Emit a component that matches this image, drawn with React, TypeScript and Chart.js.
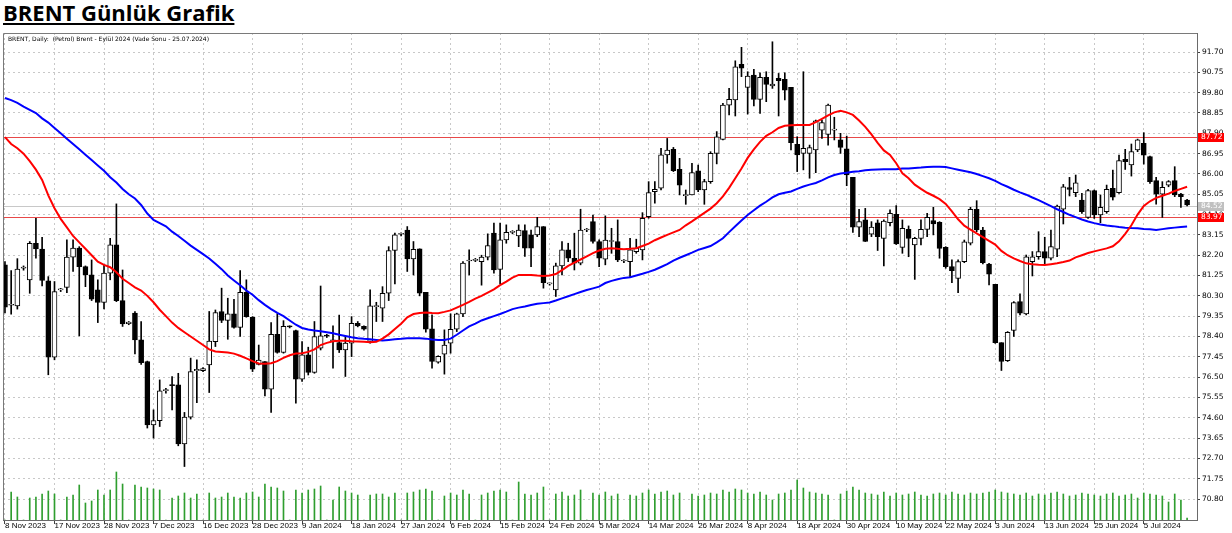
import { useEffect, useRef } from 'react';
import { Chart, registerables } from 'chart.js';

Chart.register(...registerables);

const dateLabels = ['8 Nov 2023','17 Nov 2023','28 Nov 2023','7 Dec 2023','16 Dec 2023','28 Dec 2023','9 Jan 2024','18 Jan 2024','27 Jan 2024','6 Feb 2024','15 Feb 2024','24 Feb 2024','5 Mar 2024','14 Mar 2024','26 Mar 2024','8 Apr 2024','18 Apr 2024','30 Apr 2024','10 May 2024','22 May 2024','3 Jun 2024','13 Jun 2024','25 Jun 2024','5 Jul 2024'];
const labelBars = [0,8,16,24,32,40,48,56,64,72,80,88,96,104,112,120,128,136,144,152,160,168,176,184];
const priceTicks = [70.80,71.75,72.70,73.65,74.60,75.55,76.50,77.45,78.40,79.35,80.30,81.25,82.20,83.15,84.10,85.05,86.00,86.95,87.90,88.85,89.80,90.75,91.70];
const levelRed = [87.72, 83.97];
const levelGray = [84.52];

const open = [
81.75,79.86,79.83,81.6,81.05,82.76,82.49,81.0,77.43,80.58,
80.70,82.11,82.53,81.67,81.28,80.58,79.99,81.36,82.68,80.08,
79.0,79.49,78.24,77.23,74.27,74.47,75.87,76.14,76.14,73.38,
74.63,76.8,76.8,77.07,78.16,79.57,79.15,79.46,78.82,80.47,
79.30,77.1,77.23,75.94,78.5,77.65,78.87,78.68,76.4,77.54,
76.72,77.85,78.45,78.2,78.12,77.77,78.09,79.02,78.87,78.17,
79.8,79.72,80.42,82.42,83.18,83.38,82.03,82.5,80.47,78.76,
77.2,77.57,78.09,78.74,79.46,81.93,81.96,81.90,82.11,83.23,
81.54,82.92,83.27,83.1,83.35,83.15,83.15,83.54,80.86,80.58,
81.7,82.45,82.06,81.83,83.38,83.77,82.84,82.01,82.84,82.84,
81.93,81.90,82.37,82.45,84.00,85.17,85.33,86.89,87.15,86.22,
84.99,85.02,86.15,85.25,85.64,86.96,87.62,89.22,89.46,91.12,
90.05,90.62,89.49,90.52,90.12,90.47,90.42,90.05,87.38,86.96,
86.96,87.12,88.05,87.85,88.05,87.59,87.17,85.84,83.51,83.85,
83.19,83.72,82.99,83.72,84.11,82.57,83.41,82.68,82.99,83.41,
83.82,83.74,82.57,81.67,81.12,81.90,82.76,84.35,83.38,81.79,
80.84,78.11,77.27,78.68,80.03,79.45,81.90,82.13,82.37,82.06,
82.48,84.35,85.36,85.12,84.78,83.97,85.22,84.08,84.24,85.33,
85.12,86.68,86.42,87.12,87.43,86.81,85.69,85.06,85.48,85.69,
85.06,84.78];

const high = [
81.9,81.48,82.04,81.7,82.84,83.93,83.04,81.2,80.97,80.65,
82.92,82.92,82.6,81.70,81.98,81.05,81.75,82.99,84.6,81.51,
79.1,79.57,79.1,77.25,74.97,76.37,75.98,76.53,76.68,74.85,
77.39,77.31,76.95,79.57,79.64,80.66,80.19,80.14,81.48,81.05,
79.33,78.0,77.23,79.05,79.46,79.14,78.9,78.7,78.16,77.9,
79.1,80.76,78.5,78.9,79.4,78.4,79.33,79.1,78.9,80.58,
80.0,80.73,82.6,83.23,83.25,83.54,82.84,82.5,80.47,79.41,
77.5,78.71,79.46,79.49,81.9,82.45,82.05,82.2,83.2,83.7,
83.7,83.62,83.35,83.62,83.62,83.38,83.97,83.54,80.9,81.83,
82.84,82.76,83.23,84.35,83.45,84.08,82.92,84.04,83.46,83.85,
82.0,82.99,82.95,84.19,85.64,85.64,87.20,87.66,87.24,86.73,
85.25,86.50,86.42,85.75,87.04,87.98,89.30,90.00,91.29,91.92,
90.78,90.89,90.73,90.78,92.18,90.70,90.73,90.05,87.74,90.78,
87.35,88.52,88.52,89.27,88.65,87.90,87.77,85.84,84.35,84.39,
83.77,83.85,83.85,84.32,84.52,83.85,83.57,83.04,83.85,84.16,
84.44,83.77,82.60,81.98,81.98,82.91,84.44,84.75,83.50,81.82,
80.84,78.11,78.63,80.03,80.39,82.21,82.37,83.30,83.04,83.38,
84.55,85.51,85.84,85.95,85.09,85.28,85.25,85.02,85.48,86.18,
86.88,87.15,87.40,87.63,87.93,86.84,85.84,85.64,85.69,86.34,
85.09,84.81];

const low = [
79.5,79.44,79.68,81.5,80.42,82.06,80.77,76.61,77.31,80.5,
80.45,81.44,78.43,80.73,80.08,79.05,79.69,81.05,80.03,78.87,
78.95,77.59,77.1,74.12,73.65,74.19,75.75,74.97,73.29,72.32,
74.54,75.31,76.75,75.78,77.93,79.05,78.27,78.79,78.40,79.30,
76.76,77.07,75.62,74.85,77.62,77.62,78.8,75.28,76.3,76.6,
76.68,77.77,78.35,76.92,77.65,76.53,77.46,78.85,78.7,78.09,
79.1,79.1,80.08,80.86,83.1,81.44,81.28,80.3,78.6,76.92,
77.15,76.64,77.62,78.63,79.33,81.28,81.9,80.8,81.98,81.36,
80.86,82.76,83.2,82.6,82.14,81.67,83.07,80.66,80.8,80.27,
81.28,81.9,81.51,81.75,83.3,82.76,81.67,81.75,82.29,81.90,
81.85,81.20,82.29,81.98,83.93,84.63,85.25,86.50,86.11,85.02,
84.58,85.02,85.17,84.58,85.56,86.47,87.59,88.76,88.71,90.55,
88.80,89.18,88.83,89.38,90.0,88.71,89.46,87.12,86.11,86.19,
85.80,86.06,87.66,87.35,87.59,86.96,85.45,83.27,83.07,82.84,
83.07,82.42,81.70,83.57,82.7,82.29,82.13,81.07,82.68,83.07,
83.15,82.06,81.59,80.92,80.45,81.85,82.68,83.30,81.79,80.81,
78.08,76.81,77.23,78.40,79.41,79.41,81.23,82.01,81.79,81.98,
82.13,83.66,84.97,84.94,84.16,83.92,83.92,83.72,84.16,84.78,
85.09,86.21,85.90,87.04,86.46,85.56,84.59,83.97,85.4,84.94,
84.44,84.50];

const close = [
79.77,79.9,81.55,81.65,82.76,82.49,81.02,77.43,80.5,80.6,
82.11,82.53,81.67,81.28,80.14,79.99,81.36,82.68,80.08,78.99,
79.07,78.24,77.18,74.27,74.47,75.86,75.9,76.1,73.38,74.63,
76.76,76.86,76.9,78.19,79.52,79.15,79.46,78.82,80.47,79.33,
76.87,77.3,75.94,78.5,77.65,78.87,78.85,76.4,77.54,76.72,
78.40,78.43,78.42,78.22,77.77,78.09,79.02,78.9,78.74,79.83,
79.82,80.42,82.42,83.15,83.2,82.03,82.48,80.42,78.74,77.23,
77.47,78.0,78.74,79.46,81.83,81.95,81.98,82.11,82.65,81.51,
82.92,83.27,83.29,83.38,82.53,82.53,83.54,80.92,80.88,81.7,
82.45,82.06,81.83,83.38,83.4,82.84,82.06,82.91,82.86,81.98,
81.95,82.45,82.53,83.93,85.13,85.28,86.89,87.12,86.15,85.48,
85.01,86.06,85.25,85.64,86.96,87.74,89.22,89.49,91.01,90.94,
90.58,89.49,90.52,90.19,90.2,90.36,89.92,87.46,86.89,87.20,
87.23,88.48,88.40,89.22,88.07,87.24,85.95,83.51,83.77,82.84,
83.51,83.07,83.80,84.16,82.73,83.46,82.99,82.99,83.41,83.97,
83.66,82.52,81.67,81.48,81.90,82.83,84.35,83.38,81.85,81.31,
78.11,77.23,78.60,79.98,79.49,82.13,82.13,82.37,82.06,82.60,
84.50,85.40,85.28,85.59,84.24,85.22,84.08,84.44,85.28,84.91,
86.62,86.57,87.04,87.59,86.88,85.64,85.06,85.37,85.64,85.02,
84.94,84.55];

const maFast = [
87.72,87.4,87.2,86.95,86.6,86.2,85.72,85.0,84.4,83.9,
83.5,83.1,82.8,82.5,82.2,81.9,81.75,81.64,81.4,81.1,
80.9,80.7,80.55,80.3,80.0,79.65,79.35,79.05,78.8,78.6,
78.4,78.2,78.0,77.8,77.7,77.68,77.65,77.6,77.5,77.38,
77.25,77.14,77.12,77.15,77.25,77.4,77.52,77.6,77.62,77.68,
77.8,78.0,78.1,78.18,78.2,78.2,78.18,78.17,78.15,78.13,
78.15,78.3,78.5,78.75,79.0,79.3,79.45,79.5,79.52,79.5,
79.49,79.55,79.62,79.75,79.88,80.02,80.17,80.3,80.45,80.6,
80.8,80.97,81.15,81.28,81.28,81.28,81.25,81.23,81.25,81.32,
81.5,81.7,81.85,82.0,82.15,82.3,82.42,82.5,82.53,82.5,
82.48,82.5,82.53,82.63,82.74,82.9,83.03,83.15,83.27,83.38,
83.6,83.78,83.98,84.18,84.38,84.63,84.95,85.35,85.8,86.25,
86.75,87.15,87.5,87.78,87.95,88.15,88.25,88.28,88.29,88.29,
88.29,88.42,88.58,88.74,88.88,88.95,88.88,88.76,88.5,88.2,
87.85,87.45,87.1,86.89,86.5,86.03,85.8,85.5,85.3,85.12,
84.98,84.82,84.6,84.25,83.88,83.58,83.4,83.22,83.05,82.87,
82.7,82.4,82.2,82.05,81.93,81.82,81.78,81.75,81.74,81.78,
81.82,81.88,81.95,82.1,82.2,82.3,82.38,82.45,82.52,82.62,
82.85,83.2,83.6,84.1,84.5,84.72,84.88,84.98,85.08,85.2,
85.3,85.4];

const maSlow = [
89.55,89.45,89.32,89.15,89.0,88.85,88.6,88.4,88.15,87.9,
87.65,87.4,87.15,86.9,86.65,86.4,86.15,85.85,85.6,85.3,
85.05,84.85,84.55,84.15,83.85,83.7,83.55,83.3,83.1,82.88,
82.65,82.45,82.25,82.05,81.8,81.55,81.25,81.02,80.8,80.55,
80.35,80.1,79.88,79.68,79.5,79.35,79.15,78.95,78.8,78.73,
78.68,78.65,78.6,78.55,78.48,78.42,78.36,78.32,78.29,78.27,
78.24,78.21,78.24,78.27,78.29,78.32,78.32,78.32,78.3,78.26,
78.24,78.24,78.3,78.48,78.68,78.87,79.0,79.15,79.25,79.35,
79.45,79.56,79.68,79.75,79.8,79.87,79.93,79.96,79.99,80.08,
80.18,80.28,80.38,80.48,80.57,80.65,80.73,80.9,81.0,81.08,
81.14,81.17,81.25,81.33,81.42,81.52,81.65,81.78,81.95,82.08,
82.2,82.32,82.45,82.54,82.63,82.8,82.99,83.28,83.55,83.82,
84.08,84.3,84.52,84.7,84.9,85.05,85.12,85.18,85.3,85.41,
85.5,85.58,85.7,85.84,85.95,86.02,86.06,86.1,86.13,86.17,
86.2,86.21,86.22,86.22,86.22,86.25,86.26,86.28,86.3,86.33,
86.34,86.34,86.32,86.26,86.2,86.14,86.08,86.0,85.9,85.8,
85.68,85.52,85.4,85.26,85.14,85.03,84.9,84.78,84.64,84.5,
84.35,84.22,84.09,83.98,83.87,83.78,83.7,83.64,83.59,83.56,
83.52,83.49,83.47,83.46,83.43,83.41,83.38,83.42,83.46,83.49,
83.52,83.54];

const volume = [
0,280,230,0,220,230,260,290,260,0,
230,250,350,170,190,300,250,300,480,360,
0,350,330,320,310,300,0,220,240,270,
220,260,0,270,220,230,270,230,220,270,
280,230,360,330,320,290,0,300,270,300,
310,340,0,200,330,290,270,250,0,250,
260,260,230,270,0,270,280,300,310,290,
0,240,270,250,300,260,0,250,270,290,
300,280,0,380,260,250,270,330,0,260,
280,240,250,300,0,270,250,280,240,260,
0,250,240,270,300,260,280,290,250,270,
0,260,240,250,270,260,300,280,310,300,
270,260,280,250,200,260,270,300,400,320,
280,270,260,250,0,260,290,330,300,270,
260,250,280,240,270,250,260,280,250,240,
260,270,250,280,260,250,270,260,270,280,
300,280,270,260,250,270,240,260,250,270,
280,260,240,250,270,260,250,240,260,270,
240,250,260,220,270,260,250,240,180,260,
200,20];

const FONT = '"DejaVu Sans", sans-serif';
const XFONT = '"Liberation Sans", Arial, sans-serif';

export default function App() {
  const ref = useRef<HTMLCanvasElement | null>(null);

  useEffect(() => {
    const canvas = ref.current;
    if (!canvas) return;

    const idx = open.map((_, i) => i);
    const bodies = idx.map(i => ({ x: i, y: [open[i], close[i]] }));
    const wicks = idx.map(i => ({ x: i, y: [low[i], high[i]] }));
    const bodyFill = idx.map(i => (close[i] >= open[i] ? '#ffffff' : '#000000'));
    const vols = idx.map(i => ({ x: i, y: volume[i] }));
    const fast = idx.map(i => ({ x: i, y: maFast[i] }));
    const slow = idx.map(i => ({ x: i, y: maSlow[i] }));

    const overlay = {
      id: 'overlay',
      beforeDatasetsDraw(chart: any) {
        const { ctx, chartArea: a, scales } = chart;
        const y = scales.y;
        ctx.save();
        ctx.lineWidth = 1;
        for (const v of levelGray) {
          const py = Math.round(y.getPixelForValue(v)) + 0.5;
          ctx.strokeStyle = '#c8c8c8';
          ctx.beginPath(); ctx.moveTo(a.left, py); ctx.lineTo(a.right, py); ctx.stroke();
        }
        for (const v of levelRed) {
          const py = Math.round(y.getPixelForValue(v)) + 0.5;
          ctx.strokeStyle = '#e84848';
          ctx.beginPath(); ctx.moveTo(a.left, py); ctx.lineTo(a.right, py); ctx.stroke();
        }
        ctx.restore();
      },
      afterDraw(chart: any) {
        const { ctx, chartArea: a, scales } = chart;
        const y = scales.y;
        ctx.save();
        ctx.strokeStyle = '#7a7a7a';
        ctx.lineWidth = 1;
        ctx.beginPath();
        ctx.moveTo(a.left + 0.5, a.bottom);
        ctx.lineTo(a.left + 0.5, a.top + 0.5);
        ctx.lineTo(a.right, a.top + 0.5);
        ctx.stroke();
        const boxes: [number, string][] = [
          [levelRed[0], '#ff0000'],
          [levelGray[0], '#c0c0c0'],
          [levelRed[1], '#ff0000'],
        ];
        ctx.font = '7.5px ' + FONT;
        ctx.textBaseline = 'middle';
        ctx.textAlign = 'left';
        for (const [v, col] of boxes) {
          const py = Math.round(y.getPixelForValue(v));
          ctx.fillStyle = col;
          ctx.fillRect(a.right + 1, py - 4, 26, 9);
          ctx.fillStyle = '#ffffff';
          ctx.fillText(v.toFixed(2), a.right + 4, py + 0.5);
        }
        ctx.restore();
      },
    };

    const chart = new Chart(canvas, {
      type: 'bar',
      data: {
        datasets: [
          {
            type: 'line', label: 'MA fast', data: fast as any, borderColor: '#ff0000', borderWidth: 2,
            pointRadius: 0, tension: 0, order: 0, yAxisID: 'y',
          } as any,
          {
            type: 'line', label: 'MA slow', data: slow as any, borderColor: '#0000ff', borderWidth: 2,
            pointRadius: 0, tension: 0, order: 0, yAxisID: 'y',
          } as any,
          {
            type: 'bar', label: 'body', data: bodies as any, backgroundColor: bodyFill, borderColor: '#000000',
            borderWidth: 1, borderSkipped: false, barThickness: 5, grouped: false, minBarLength: 1,
            order: 1, yAxisID: 'y',
          } as any,
          {
            type: 'bar', label: 'wick', data: wicks as any, backgroundColor: '#000000', borderWidth: 0,
            barThickness: 1, grouped: false, order: 2, yAxisID: 'y',
          } as any,
          {
            type: 'bar', label: 'volume', data: vols as any, backgroundColor: '#2f9e2f', borderWidth: 0,
            barThickness: 1, grouped: false, order: 3, yAxisID: 'yv',
          } as any,
        ],
      },
      options: {
        responsive: false,
        animation: false,
        events: [],
        layout: { padding: { left: 3, top: 33, right: 0, bottom: 0 } },
        plugins: { legend: { display: false }, tooltip: { enabled: false } },
        scales: {
          x: {
            type: 'linear',
            min: -0.32,
            max: 192.6,
            offset: false,
            afterBuildTicks: (s: any) => { s.ticks = labelBars.map(v => ({ value: v })); },
            afterFit: (s: any) => { s.height = 13; },
            ticks: {
              autoSkip: false,
              maxRotation: 0,
              align: 'start',
              padding: -3,
              color: '#000000',
              font: { family: XFONT, size: 8 },
              callback: (v: any) => { const k = labelBars.indexOf(Number(v)); return k >= 0 ? dateLabels[k] : ''; },
            },
            grid: { color: '#c8c8c8', tickColor: '#404040', tickLength: 4, offset: false },
            border: { display: true, color: '#6a6a6a', dash: [2, 3] },
          },
          y: {
            type: 'linear',
            position: 'right',
            min: 69.82,
            max: 92.59,
            afterBuildTicks: (s: any) => { s.ticks = priceTicks.map(v => ({ value: v })); },
            afterFit: (s: any) => { s.width = 35; },
            ticks: {
              padding: 2,
              color: '#000000',
              font: { family: FONT, size: 7.5 },
              callback: (v: any) => Number(v).toFixed(2),
            },
            grid: { color: '#c8c8c8', tickColor: '#404040', tickLength: 3 },
            border: { display: true, color: '#6a6a6a', dash: [2, 3] },
          },
          yv: {
            type: 'linear',
            display: false,
            min: 0,
            max: 4870,
          },
        },
      } as any,
      plugins: [overlay],
    });

    return () => chart.destroy();
  }, []);

  return (
    <div style={{ position: 'absolute', left: 0, top: 0, width: 1232, height: 533, background: '#ffffff', overflow: 'hidden' }}>
      <div style={{ position: 'absolute', left: 3, top: -3, font: '700 22px "Open Sans", sans-serif', lineHeight: '30px', textDecoration: 'underline', color: '#000000', whiteSpace: 'nowrap' }}>
        BRENT Günlük Grafik
      </div>
      <canvas ref={ref} width={1232} height={533} style={{ position: 'absolute', left: 0, top: 0, width: 1232, height: 533 }} />
      <div style={{ position: 'absolute', left: 8, top: 35, font: '6px "DejaVu Sans", sans-serif', lineHeight: '8px', color: '#000000', whiteSpace: 'pre' }}>
        {'BRENT, Daily:  (Petrol) Brent - Eylül 2024 (Vade Sonu - 25.07.2024)'}
      </div>
    </div>
  );
}
